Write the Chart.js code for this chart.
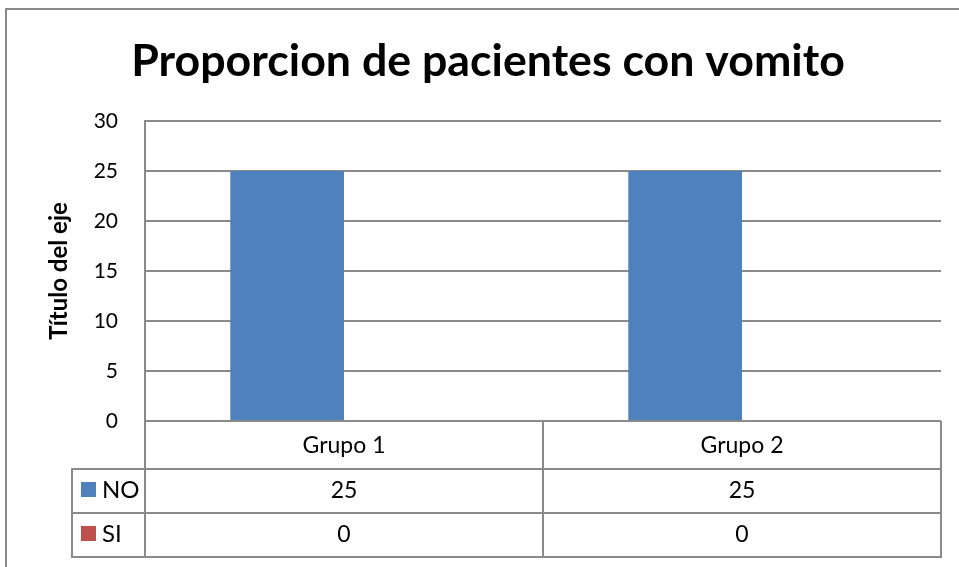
<!DOCTYPE html>
<html>
<head>
<meta charset="utf-8">
<script src="https://cdn.jsdelivr.net/npm/chart.js@4/dist/chart.umd.min.js"></script>
<style>
  html, body { margin: 0; padding: 0; background: #ffffff; }
  canvas { display: block; }
</style>
</head>
<body>
<canvas id="c" width="959" height="567"></canvas>
<script>
// ---- Data ----
const chartTitle = "Proporcion de pacientes con vomito";
const yAxisTitle = "Título del eje";
const categories = ["Grupo 1", "Grupo 2"];
const seriesNames = ["NO", "SI"];
const seriesNO = [25, 25];
const seriesSI = [0, 0];
const yTicks = [0, 5, 10, 15, 20, 25, 30];

// ---- Styles ----
const FONT = "Lato, Carlito, Calibri, 'Open Sans', sans-serif";
const GRID = "#8a8a8a";
const colors = ["#4F81BD", "#C0504D"];

const framePlugin = {
  id: "frame",
  beforeDraw(chart) {
    const ctx = chart.ctx;
    ctx.save();
    ctx.fillStyle = "#ffffff";
    ctx.fillRect(0, 0, chart.width, chart.height);
    ctx.fillStyle = GRID;
    ctx.fillRect(5, 8, chart.width, 2);
    ctx.fillRect(5, 8, 2, chart.height);
    ctx.restore();
  },
  afterDraw(chart) {
    const ctx = chart.ctx;
    const xs = chart.scales.x;
    const area = chart.chartArea;
    ctx.save();
    // title
    ctx.fillStyle = "#000000";
    ctx.font = "bold 44.7px " + FONT;
    ctx.textAlign = "center";
    ctx.textBaseline = "middle";
    ctx.fillText(chartTitle, 488, 62);

    // data table
    const left = area.left, right = area.right, top = area.bottom;
    const headerH = 48, rowH = 44, legendLeft = 72;
    const rows = [seriesNO, seriesSI];
    const tableBottom = top + headerH + rowH * rows.length;
    ctx.strokeStyle = GRID;
    ctx.lineWidth = 2;
    ctx.beginPath();
    for (let r = 0; r <= rows.length; r++) {
      const y = top + headerH + r * rowH;
      ctx.moveTo(legendLeft - 1, y);
      ctx.lineTo(right + 1, y);
    }
    const n = categories.length;
    const cw = (right - left) / n;
    for (let i = 0; i <= n; i++) {
      const x = Math.round(left + i * cw);
      ctx.moveTo(x, top);
      ctx.lineTo(x, tableBottom + 1);
    }
    ctx.moveTo(legendLeft, top + headerH - 1);
    ctx.lineTo(legendLeft, tableBottom + 1);
    ctx.stroke();

    ctx.fillStyle = "#000000";
    ctx.font = "23px " + FONT;
    ctx.textAlign = "center";
    ctx.textBaseline = "middle";
    categories.forEach((c, i) => {
      const cx = xs.getPixelForValue(i);
      ctx.fillText(c, cx, top + headerH / 2 + 1);
      rows.forEach((vals, r) => {
        ctx.fillText(String(vals[i]), cx, top + headerH + r * rowH + rowH / 2);
      });
    });
    // legend keys
    ctx.font = "24px " + FONT;
    rows.forEach((vals, r) => {
      const cy = top + headerH + r * rowH + rowH / 2 - 2;
      ctx.fillStyle = colors[r];
      ctx.fillRect(81, cy - 7, 15, 15);
      ctx.fillStyle = "#000000";
      ctx.textAlign = "left";
      ctx.fillText(seriesNames[r], 102, cy + 1);
    });
    ctx.restore();
  }
};

new Chart(document.getElementById("c"), {
  type: "bar",
  data: {
    labels: categories,
    datasets: [
      { label: seriesNames[0], data: seriesNO, backgroundColor: colors[0], borderWidth: 0 },
      { label: seriesNames[1], data: seriesSI, backgroundColor: colors[1], borderWidth: 0 }
    ]
  },
  options: {
    responsive: false,
    animation: false,
    devicePixelRatio: 1,
    layout: { padding: { top: 121, left: 0, right: 18, bottom: 146 } },
    datasets: { bar: { categoryPercentage: 0.5714, barPercentage: 1.0 } },
    plugins: {
      legend: { display: false },
      tooltip: { enabled: false },
      title: { display: false }
    },
    scales: {
      x: {
        display: false,
        offset: true
      },
      y: {
        min: yTicks[0],
        max: yTicks[yTicks.length - 1],
        afterBuildTicks(scale) { scale.ticks = yTicks.map(v => ({ value: v })); },
        afterFit(scale) { scale.width = 145; },
        grid: { color: GRID, lineWidth: 2, drawTicks: false },
        border: { display: true, color: GRID, width: 2 },
        ticks: { color: "#000000", font: { family: FONT, size: 21 }, padding: 27 },
        title: {
          display: true,
          text: yAxisTitle,
          color: "#000000",
          font: { family: FONT, size: 24, weight: "bold" },
          padding: { top: 45, bottom: 0 }
        }
      }
    }
  },
  plugins: [framePlugin]
});
</script>
</body>
</html>
